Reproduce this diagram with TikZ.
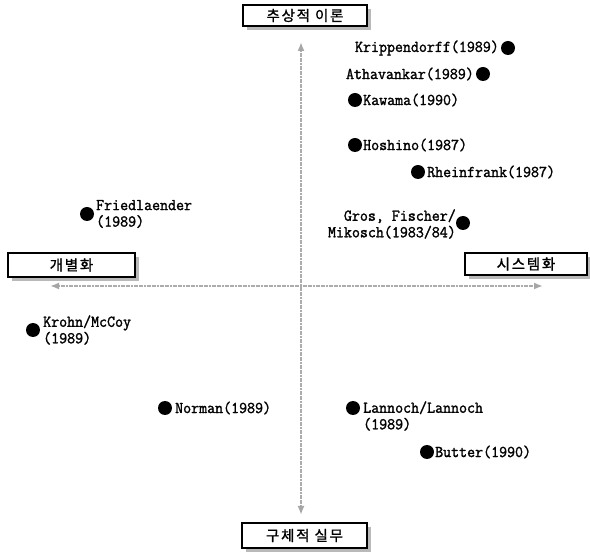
\documentclass[tikz,border=0pt]{standalone}
\usepackage{fontspec}
\newfontfamily\kor[LetterSpace=12,FakeBold=1.2]{Noto Sans CJK KR}
\newfontfamily\lat[FakeBold=1.6,FakeStretch=0.94]{Latin Modern Mono}
\usetikzlibrary{arrows.meta}
\tikzset{
  axis/.style={draw=gray!65, line width=1.8pt, dash pattern=on 2pt off 0.6pt,
    {Latex[length=9pt,width=7pt,fill=gray!70,color=gray!70]}-{Latex[length=9pt,width=7pt,fill=gray!70,color=gray!70]}},
  dotnode/.style={circle, fill=black, minimum size=14pt, inner sep=0pt},
  lbl/.style={inner sep=0pt, font=\fontsize{16.5}{16.5}\selectfont\lat},
  kbox/.style={draw=black, line width=1.5pt, fill=white, inner sep=0pt,
    font=\fontsize{14.5}{15}\selectfont\kor},
  kshadow/.style={fill=gray!55}
}
\begin{document}
\begin{tikzpicture}[x=1pt,y=-1pt]
\useasboundingbox (0,0) rectangle (590,553);
% axes
\coordinate (ctop) at (301,42);
\coordinate (cbot) at (301,515);
\coordinate (cleft) at (50,286);
\coordinate (cright) at (543,286);
\draw[axis] (ctop) -- (cbot);
\draw[axis] (cleft) -- (cright);
% boxes: shadows
\fill[kshadow] (247,9) rectangle (371,30);
\fill[kshadow] (12,257) rectangle (139,281);
\fill[kshadow] (469,257) rectangle (591,279);
\fill[kshadow] (246,527) rectangle (371,552);
% boxes
\node[kbox, minimum width=124pt, minimum height=21pt] (top) at (305,15.5) {추상적 이론};
\node[kbox, minimum width=127pt, minimum height=24pt] (left) at (71.5,265) {개별화};
\node[kbox, minimum width=122pt, minimum height=22pt] (right) at (526,264) {시스템화};
\node[kbox, minimum width=125pt, minimum height=25pt] (bottom) at (304.5,535.5) {구체적 실무};
% dots
\node[dotnode] (d1) at (508,48) {};
\node[lbl, anchor=east] (t1) at (499,48) {Krippendorff(1989)};
\node[dotnode] (d2) at (483,74) {};
\node[lbl, anchor=east] (t2) at (474,74) {Athavankar(1989)};
\node[dotnode] (d3) at (355,100) {};
\node[lbl, anchor=west] (t3) at (363,100) {Kawama(1990)};
\node[dotnode] (d4) at (355,145) {};
\node[lbl, anchor=west] (t4) at (363,145) {Hoshino(1987)};
\node[dotnode] (d5) at (418,172) {};
\node[lbl, anchor=west] (t5) at (427,172) {Rheinfrank(1987)};
\node[dotnode] (d6) at (463,223) {};
\node[lbl, anchor=east, align=right] (t6) at (456,224) {Gros, Fischer/\\Mikosch(1983/84)};
\node[dotnode] (d7) at (87,214) {};
\node[lbl, anchor=west, align=left] (t7) at (96,214) {Friedlaender\\(1989)};
\node[dotnode] (d8) at (33,330) {};
\node[lbl, anchor=west, align=left] (t8) at (43,330) {Krohn/McCoy\\(1989)};
\node[dotnode] (d9) at (165,408) {};
\node[lbl, anchor=west] (t9) at (175,408) {Norman(1989)};
\node[dotnode] (d10) at (353,408) {};
\node[lbl, anchor=west, align=left] (t10) at (363,416) {Lannoch/Lannoch\\(1989)};
\node[dotnode] (d11) at (427,452) {};
\node[lbl, anchor=west] (t11) at (435,452) {Butter(1990)};
\end{tikzpicture}
\end{document}
